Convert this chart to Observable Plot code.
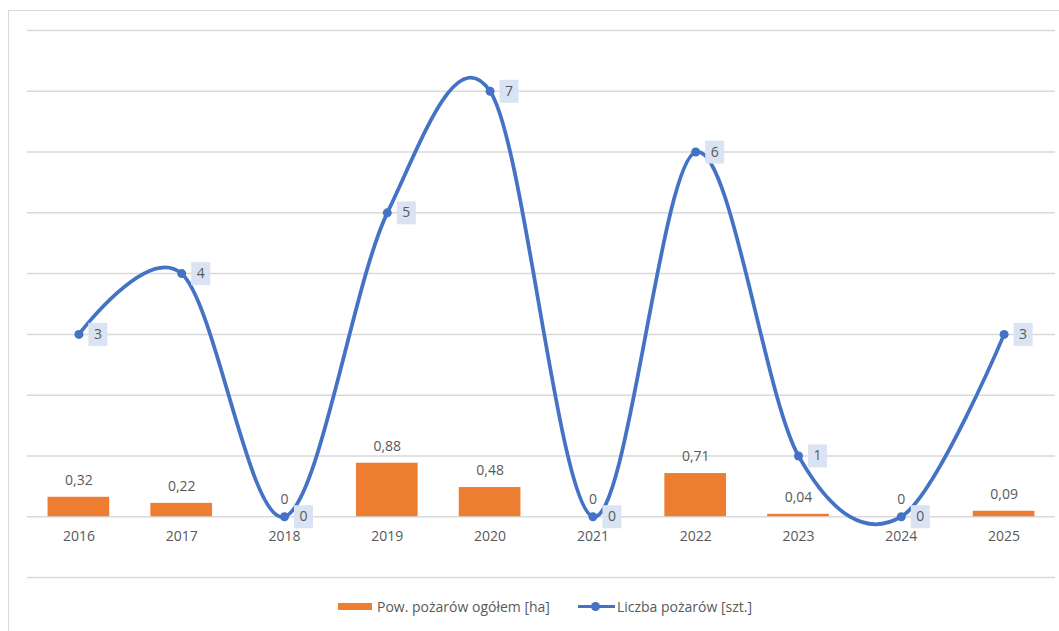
<!DOCTYPE html>
<html>
<head>
<meta charset="utf-8">
<script src="https://cdn.jsdelivr.net/npm/d3@7"></script>
<script src="https://cdn.jsdelivr.net/npm/@observablehq/plot@0.6"></script>
<style>
  html, body { margin: 0; padding: 0; background: #fff; overflow: hidden; width: 1059px; height: 631px; }
  #frame { position: absolute; left: 8px; top: 10px; width: 1100px; height: 700px; border: 1.5px solid #d9d9d9; pointer-events: none; }
  #chart { position: absolute; left: 0; top: 0; }
  #legend { position: absolute; left: 338px; top: 597px; font-family: "Open Sans", sans-serif; font-size: 14px; color: #595959; display: flex; align-items: center; white-space: nowrap; }
  .sw-bar { width: 34px; height: 7px; background: #ed7d31; margin-right: 5px; }
  .sw-line { position: relative; width: 37px; height: 12px; margin-left: 28px; margin-right: 2px; }
  .sw-line::before { content: ""; position: absolute; left: 0; right: 0; top: 4.5px; height: 3px; background: #4472c4; }
  .sw-line::after { content: ""; position: absolute; left: 13px; top: 1.5px; width: 9px; height: 9px; border-radius: 50%; background: #4472c4; }
</style>
</head>
<body>
<div id="chart"></div>
<div id="frame"></div>
<div id="legend">
  <div class="sw-bar"></div><span>Pow. pożarów ogółem [ha]</span>
  <div class="sw-line"></div><span>Liczba pożarów [szt.]</span>
</div>
<script>
const years = ["2016","2017","2018","2019","2020","2021","2022","2023","2024","2025"];
const area = [0.32, 0.22, 0, 0.88, 0.48, 0, 0.71, 0.04, 0, 0.09];
const count = [3, 4, 0, 5, 7, 0, 6, 1, 0, 3];
const gridTicks = [-1, 0, 1, 2, 3, 4, 5, 6, 7, 8];

const data = years.map((y, i) => ({year: y, area: area[i], count: count[i]}));
const fmtComma = v => v === 0 ? "0" : d3.format(".2f")(v).replace(".", ",");

const boxSymbol = {
  draw(ctx) { ctx.rect(-9.5, -11.5, 19, 23); }
};

const txt = "#595959";

const chart = Plot.plot({
  width: 1059,
  height: 590,
  marginTop: 30,
  marginBottom: 13,
  marginLeft: 27,
  marginRight: 4,
  style: {background: "transparent", fontFamily: "'Open Sans', sans-serif", fontSize: "14px"},
  x: {type: "band", domain: years, paddingInner: 0.4, paddingOuter: 0.2, round: false, axis: null},
  y: {domain: [-1, 8], axis: null},
  marks: [
    Plot.ruleY(gridTicks, {stroke: "#d9d9d9", strokeWidth: 1.5}),
    Plot.barY(data, {x: "year", y: "area", fill: "#ed7d31"}),
    Plot.text(data, {x: "year", y: "area", text: d => fmtComma(d.area), dy: -17, fill: txt, fontSize: 14}),
    Plot.text(data, {x: "year", y: 0, text: "year", dy: 20, fill: txt, fontSize: 14}),
    Plot.line(data, {x: "year", y: "count", stroke: "#4472c4", strokeWidth: 3.75, curve: "cardinal", tension: 0}),
    Plot.dot(data, {x: "year", y: "count", r: 4.5, fill: "#4472c4"}),
    Plot.dot(data, {x: "year", y: "count", symbol: boxSymbol, fill: "#dae3f3", dx: 19, r: 5}),
    Plot.text(data, {x: "year", y: "count", text: d => String(d.count), dx: 19, fill: txt, fontSize: 14})
  ]
});
document.getElementById("chart").appendChild(chart);
</script>
</body>
</html>
